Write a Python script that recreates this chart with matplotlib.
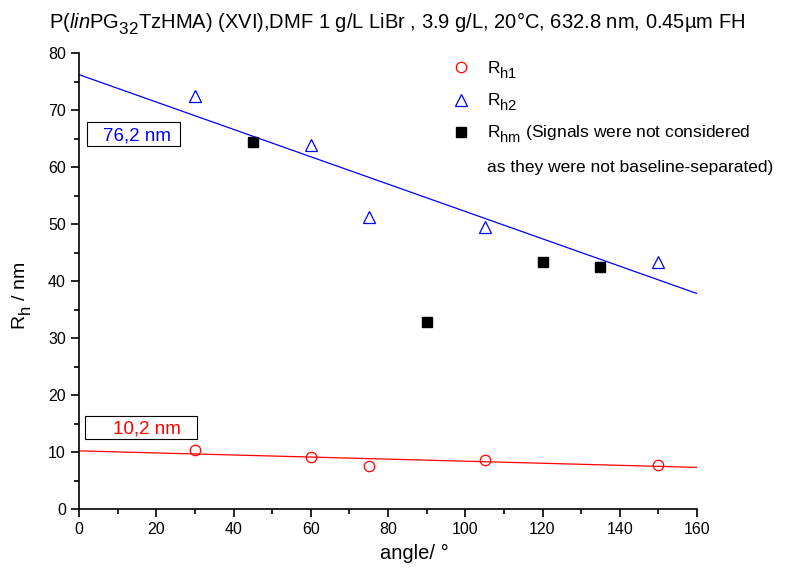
import numpy as np
import matplotlib
matplotlib.use("Agg")
import matplotlib.pyplot as plt
import matplotlib._mathtext as mt
from matplotlib.ticker import MultipleLocator
from matplotlib.patches import Rectangle

plt.rcParams['font.family'] = ['Liberation Sans', 'DejaVu Sans']
plt.rcParams['mathtext.fontset'] = 'custom'
plt.rcParams['mathtext.rm'] = 'Liberation Sans'
plt.rcParams['mathtext.it'] = 'Liberation Sans:italic'
# Origin-style subscripts: nearly full size and dropped lower
mt.SHRINK_FACTOR = 0.85
mt.FontConstantsBase.sub1 = 0.6
mt.FontConstantsBase.subdrop = 0.6

# --- data ---
angle_h1 = [30, 60, 75, 105, 150]
rh1 = [10.3, 9.1, 7.6, 8.6, 7.8]

angle_h2 = [30, 60, 75, 105, 150]
rh2 = [72.5, 63.8, 51.3, 49.5, 43.3]

angle_hm = [45, 90, 120, 135]
rhm = [64.3, 32.8, 43.3, 42.4]

# fitted lines (value at 0, value at 160)
fit_x = [0, 160]
fit_h1 = [10.2, 7.3]
fit_h2 = [76.2, 37.8]

fig = plt.figure(figsize=(8.1, 5.73), dpi=100)
ax = fig.add_axes([79 / 810, 1 - 509 / 573, (697 - 79) / 810, (509 - 53) / 573])

ax.plot(fit_x, fit_h2, color='blue', linewidth=0.9)
ax.plot(fit_x, fit_h1, color='red', linewidth=0.9)

ax.plot(angle_h1, rh1, 'o', mfc='none', mec='red', ms=7.5, mew=0.9,
        label=r'R$_{\mathregular{h1}}$')
ax.plot(angle_h2, rh2, '^', mfc='none', mec='blue', ms=8.5, mew=0.9,
        label=r'R$_{\mathregular{h2}}$')
ax.plot(angle_hm, rhm, 's', color='black', ms=6.5,
        label=r'R$_{\mathregular{hm}}$ (Signals were not considered')

ax.set_xlim(0, 160)
ax.set_ylim(0, 80)
ax.xaxis.set_major_locator(MultipleLocator(20))
ax.xaxis.set_minor_locator(MultipleLocator(10))
ax.yaxis.set_major_locator(MultipleLocator(10))
ax.yaxis.set_minor_locator(MultipleLocator(5))
ax.tick_params(which='major', direction='out', length=6, width=1.2, labelsize=11.5)
ax.tick_params(which='minor', direction='out', length=3.5, width=1.2)
for s in ['top', 'right']:
    ax.spines[s].set_visible(False)
for s in ['left', 'bottom']:
    ax.spines[s].set_linewidth(1.2)

ax.set_xlabel('angle/ °', fontsize=14.5)
ax.xaxis.set_label_coords(0.542, -0.077)
ax.set_ylabel(r'R$_{\mathregular{h}}$ / nm', fontsize=14)
ax.yaxis.set_label_coords(-0.074, 0.467)
fig.text(0.49, 0.959,
         r'P($\it{lin}$PG$_{\mathregular{32}}$TzHMA) (XVI),DMF 1 g/L LiBr , 3.9 g/L, 20°C, 632.8 nm, 0.45µm FH',
         fontsize=14.5, ha='center', va='center')

# annotation boxes with the fitted intercepts
ax.add_patch(Rectangle((2.1, 63.7), 24.0, 4.2, facecolor='white', edgecolor='black', linewidth=0.8))
ax.text(15.0, 65.5, '76,2 nm', color='blue', fontsize=13.5, ha='center', va='center')
ax.add_patch(Rectangle((1.6, 12.3), 28.9, 4.0, facecolor='white', edgecolor='black', linewidth=0.8))
ax.text(17.5, 14.1, '10,2 nm', color='red', fontsize=13.5, ha='center', va='center')

leg = ax.legend(loc='upper left', bbox_to_anchor=(0.5785, 1.02), frameon=False, fontsize=12.5,
                handletextpad=1.0, labelspacing=0.62, handlelength=1.0)
ax.text(0.660, 0.748, 'as they were not baseline-separated)', transform=ax.transAxes,
        fontsize=12.5, ha='left', va='center')

fig.savefig('out.png', dpi=100)
